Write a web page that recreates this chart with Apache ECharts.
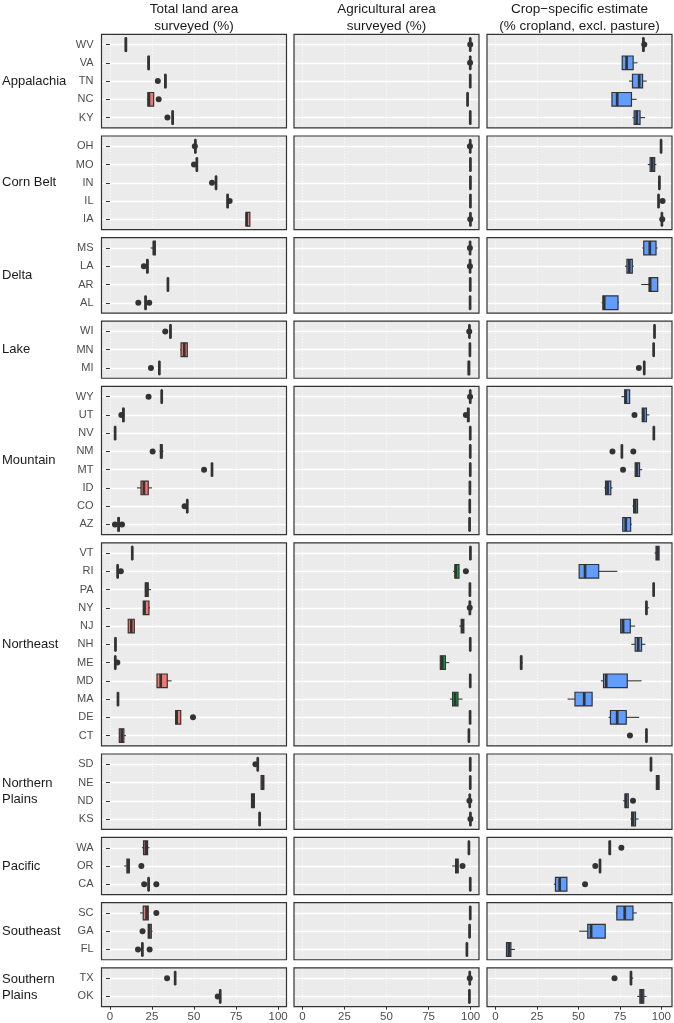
<!DOCTYPE html>
<html><head><meta charset="utf-8">
<script src="https://cdn.jsdelivr.net/npm/echarts@6/dist/echarts.min.js"></script>
<style>html,body{margin:0;padding:0;background:#fff}#c{width:674px;height:1023px}</style>
</head><body><div id="c"></div>
<script>
// ---------- DATA ----------
const regions = ['Appalachia','Corn Belt','Delta','Lake','Mountain','Northeast','Northern\nPlains','Pacific','Southeast','Southern\nPlains'];
const regionStates = [
  ['WV','VA','TN','NC','KY'],
  ['OH','MO','IN','IL','IA'],
  ['MS','LA','AR','AL'],
  ['WI','MN','MI'],
  ['WY','UT','NV','NM','MT','ID','CO','AZ'],
  ['VT','RI','PA','NY','NJ','NH','ME','MD','MA','DE','CT'],
  ['SD','NE','ND','KS'],
  ['WA','OR','CA'],
  ['SC','GA','FL'],
  ['TX','OK']
];
const colTitles = ['Total land area\nsurveyed (%)','Agricultural area\nsurveyed (%)','Crop\u2212specific estimate\n(% cropland, excl. pasture)'];
const xTicks = [0,25,50,75,100];

// [min, q1, median, q3, max] per state, in the flat order of regionStates
const landStats = [
  [9,9.2,9.5,9.8,10],[22.5,22.8,23,23.3,23.6],[32.5,32.7,33,33.2,33.4],[22,22.6,23.2,26,26],[37,37.1,37.3,37.5,37.6],
  [50.4,50.6,50.8,51,51.2],[51.3,51.5,51.7,51.9,52],[62.8,63,63.1,63.3,63.5],[69.6,69.8,70,70.2,70.4],[81,81,81.3,83.2,83.2],
  [24.2,25.8,26.2,27,27],[21.8,22,22.3,22.5,22.8],[34.3,34.4,34.5,34.6,34.7],[20.8,21,21.2,21.4,21.6],
  [35.6,35.8,36,36.2,36.4],[41.7,42.3,44.2,46,46],[29.2,29.3,29.4,29.5,29.6],
  [30.6,30.7,30.8,30.9,31],[7.5,7.7,8,8.3,8.5],[2.9,3,3.1,3.2,3.3],[29.5,30,30.6,31,31.8],[60.5,60.6,60.7,60.8,60.9],[16.1,18.5,20.2,22.8,25],[45.8,45.9,46,46.1,46.2],[4.5,4.8,5.2,5.5,5.8],
  [13.1,13.2,13.3,13.4,13.5],[4.4,4.5,4.6,4.7,4.8],[20.8,21,21.8,22.8,24.4],[19.8,19.8,20.6,23.2,23.8],[10.9,10.9,12.7,14.5,14.5],[3.1,3.2,3.3,3.4,3.5],[3,3.1,3.2,3.3,3.4],[28,28,30.2,34.1,36.7],[4.6,4.7,4.8,4.9,5],[39.1,39.1,39.7,42.1,42.1],[5.6,5.6,7,8.3,9.5],
  [87.7,87.8,87.9,88,88.1],[89.7,89.9,90.9,91.5,91.7],[84.1,84.2,84.9,85.9,86.1],[88.8,88.9,89,89.1,89.2],
  [19,20,21.4,22.4,23.5],[8.5,10.1,11,11.5,11.9],[22.8,22.9,23,23.1,23.2],
  [17.9,19.8,21.8,22.8,22.8],[22.8,22.8,23.4,24.6,25.4],[19.1,19.2,19.3,19.4,19.5],
  [38.6,38.7,38.8,38.9,39],[65.4,65.5,65.6,65.7,65.8]
];
const landOutliers = [
  ['TN',28.5],['NC',29],['KY',34.2],['OH',50.5],['MO',50],['IN',60.7],['IL',71.2],
  ['LA',20.2],['AL',16.9],['AL',23.4],['WI',32.9],['MI',24.4],
  ['WY',23],['UT',6.8],['NM',25.4],['MT',56],['CO',44.4],['AZ',3],['AZ',7.2],
  ['RI',6.5],['ME',4.4],['DE',49.4],['SD',86.5],['OR',18.7],['CA',20.4],['CA',27.6],
  ['SC',27.6],['GA',19.4],['FL',16.7],['FL',23.6],['TX',34],['OK',64.1]
];
const agStats = [
  [99.6,99.7,99.8,99.9,100],[99.6,99.7,99.8,99.9,100],[99.6,99.7,99.8,99.9,100],[98,98.1,98.2,98.3,98.4],[99.6,99.7,99.8,99.9,100],
  [99.6,99.7,99.8,99.9,100],[99.7,99.8,99.9,99.95,100],[99.7,99.8,99.9,99.95,100],[99.7,99.8,99.9,99.95,100],[99.7,99.8,99.9,99.95,100],
  [99.5,99.6,99.7,99.8,99.9],[99.5,99.6,99.7,99.8,99.9],[99.6,99.7,99.8,99.9,100],[99.5,99.6,99.7,99.8,99.9],
  [99.1,99.2,99.3,99.4,99.5],[99.4,99.5,99.6,99.7,99.8],[98.4,98.6,99,99.4,99.5],
  [99.6,99.7,99.8,99.9,100],[97.6,98.2,98.6,99,99.3],[99.6,99.7,99.8,99.9,100],[99.6,99.7,99.8,99.9,100],[99.6,99.7,99.8,99.9,100],[99.4,99.5,99.6,99.7,99.8],[99.3,99.4,99.5,99.6,99.7],[99.2,99.3,99.4,99.5,99.6],
  [99.7,99.8,99.9,99.95,100],[89.7,90.7,91.2,93.1,93.1],[99.4,99.5,99.6,99.7,99.8],[98.8,99.3,99.6,99.8,100],[93.2,94.4,95.2,96,96],[99.6,99.7,99.8,99.9,100],[82,82,83.2,85,87.3],[99.6,99.7,99.8,99.9,100],[87.7,89.3,90.8,92.5,95.2],[99.5,99.6,99.7,99.8,99.9],[98.8,98.9,99,99.1,99.2],
  [99.6,99.7,99.8,99.9,100],[99.6,99.7,99.8,99.9,100],[99.3,99.4,99.5,99.6,99.7],[99.7,99.8,99.9,99.95,100],
  [98.6,98.8,99,99.2,99.4],[89,91.1,91.9,92.6,92.6],[99.6,99.7,99.8,99.9,100],
  [99.6,99.7,99.8,99.9,100],[99.2,99.3,99.4,99.5,99.6],[97.6,97.7,97.8,97.9,98],
  [99.3,99.4,99.5,99.6,99.7],[99.1,99.2,99.3,99.4,99.5]
];
const agOutliers = [
  ['WV',99.8],['VA',99.7],['OH',99.6],['IA',99.8],['MS',99.6],['LA',99.6],['WI',99.2],
  ['WY',99.7],['UT',97.2],['RI',97.2],['NY',99.5],['ND',99.3],['KS',99.9],['OR',95.2],['TX',99.5]
];
const cropStats = [
  [87.6,87.7,88,88.2,88.5],[75.4,75.4,78,81.9,84.5],[79.4,81.5,85.5,87.5,90],[69.3,69.3,72.4,80.9,84],[81.5,82.5,84,86,89],
  [98.3,98.4,98.5,98.6,98.7],[90.6,92,93.3,94.7,95.7],[97.3,97.4,97.5,97.6,97.7],[96.8,96.9,97,97.1,97.2],[98.8,98.9,99,99.1,99.2],
  [87.3,88.2,91.8,95.5,96.5],[77,78.2,79.6,81.4,82.3],[86.7,91.4,92,96.5,96.5],[63.1,63.9,64.7,72.9,73.5],
  [94.4,94.5,94.6,94.7,94.8],[93.9,94,94.1,94.2,94.3],[88.3,88.4,88.5,88.6,88.7],
  [74.9,76.9,77.5,79.8,79.8],[87.3,87.3,88,89.8,91.6],[94,94.1,94.2,94.3,94.4],[75,75.1,75.2,75.3,75.4],[83.1,83.1,84.1,85.7,87.3],[64.8,65.5,66.7,68.6,69.7],[81.5,82.2,83.1,84.5,84.5],[75.7,75.7,77.5,80.4,81],
  [94.6,95.5,96.4,97.3,97.3],[49.8,49.8,53.3,61.4,72.5],[93.9,94,94.1,94.2,94.3],[89.6,89.7,89.8,89.9,91.4],[74.5,74.5,75.9,80.2,83.1],[80.8,83.1,84.9,86.9,89.2],[15,15.1,15.3,15.6,16.3],[62.7,64.3,65.9,78.4,86.9],[42.9,47.3,52.8,57.5,57.8],[67.3,68.4,72.4,77.8,85.5],[89.6,89.7,89.8,89.9,90],
  [92.3,92.4,92.5,92.6,92.7],[95.5,95.7,96.5,97.3,97.5],[75.9,77.1,77.6,79,79],[80.2,81,81.8,83.3,85.1],
  [67.5,67.7,68,68.4,68.6],[62,62.1,62.2,62.3,62.4],[34.7,35.7,38.2,42.5,42.5],
  [71.6,72.2,76.9,81.8,84.1],[49.8,54.9,56.9,65.3,65.3],[6.6,6.6,8,9.2,11.6],
  [80.4,80.5,80.6,80.8,82],[84.3,85.9,86.9,88.2,89.8]
];
const cropOutliers = [
  ['WV',88.5],['IL',99.4],['IA',99.2],['MI',85.3],['UT',82.7],['NM',69.6],['NM',82],['MT',75.9],
  ['CT',80],['ND',81.8],['WA',74.9],['OR',59.4],['CA',53.3],['TX',70.8]
];

// ---------- LAYOUT / STYLE ----------
const colColors = ['#F8766D','#00BA38','#619CFF'];
const colStats = [landStats, agStats, cropStats];
const colOutliers = [landOutliers, agOutliers, cropOutliers];
const colLeft = [101.5, 294, 487], panelW = 185;
const top0 = 34.3, rowStep = 18.25, pad = 10.3, gap = 8.1;
const xPad = panelW * 5 / 110;
const FONT = '"Liberation Sans", Arial, sans-serif';

function renderBox(params, api) {
  const cat = api.value(0);
  const lo = api.coord([api.value(1), cat]);
  const q1 = api.coord([api.value(2), cat]);
  const md = api.coord([api.value(3), cat]);
  const q3 = api.coord([api.value(4), cat]);
  const hi = api.coord([api.value(5), cat]);
  const bh = api.size([0, 1])[1] * 0.75;
  const y = md[1];
  const color = api.visual('color');
  return {type: 'group', children: [
    {type: 'line', shape: {x1: lo[0], y1: y, x2: q1[0], y2: y}, style: {stroke: '#333', lineWidth: 1.1}},
    {type: 'line', shape: {x1: q3[0], y1: y, x2: hi[0], y2: y}, style: {stroke: '#333', lineWidth: 1.1}},
    {type: 'rect', shape: {x: q1[0], y: y - bh / 2, width: q3[0] - q1[0], height: bh}, style: {fill: color, stroke: '#333', lineWidth: 1.2}},
    {type: 'line', shape: {x1: md[0], y1: y - bh / 2, x2: md[0], y2: y + bh / 2}, style: {stroke: '#333', lineWidth: 2.7}}
  ]};
}

const grids = [], xAxes = [], yAxes = [], series = [], graphics = [];
let curTop = top0, flat = 0;
regions.forEach((reg, r) => {
  const sts = regionStates[r];
  const n = sts.length;
  const h = (n - 1) * rowStep + 2 * pad;
  const cats = sts.slice().reverse();
  const last = r === regions.length - 1;
  for (let c = 0; c < 3; c++) {
    const gA = grids.length;
    grids.push({left: colLeft[c], top: curTop, width: panelW, height: h, show: true, backgroundColor: '#EBEBEB', borderWidth: 0});
    xAxes.push({gridIndex: gA, type: 'value', min: -5, max: 105, show: false});
    yAxes.push({gridIndex: gA, type: 'value', min: 0, max: 1, show: false});
    grids.push({left: colLeft[c] + xPad, top: curTop, width: panelW - 2 * xPad, height: h});
    xAxes.push({gridIndex: gA + 1, type: 'value', min: xTicks[0], max: xTicks[xTicks.length - 1], interval: 25,
      axisLine: {show: false},
      axisTick: {show: last, length: 3, lineStyle: {color: '#333', width: 1}},
      axisLabel: {show: last, color: '#4D4D4D', fontSize: 11.5, margin: 4, fontFamily: FONT},
      splitLine: {show: true, lineStyle: {color: '#ffffff', type: [1, 2], width: 0.9}}});
    yAxes.push({gridIndex: gA + 1, type: 'value', min: 0, max: 1, show: false});
    grids.push({left: colLeft[c], top: curTop + pad, width: panelW, height: (n - 1) * rowStep});
    xAxes.push({gridIndex: gA + 2, type: 'value', min: -5, max: 105, show: false});
    yAxes.push({gridIndex: gA + 2, type: 'category', data: cats, boundaryGap: false,
      axisLine: {show: false},
      axisTick: {show: c === 0, length: 4, interval: 0, lineStyle: {color: '#333'}},
      axisLabel: {show: c === 0, interval: 0, color: '#4D4D4D', fontSize: 11, margin: 8, fontFamily: FONT},
      splitLine: {show: true, interval: 0, lineStyle: {color: '#ffffff', width: 1.4}}});
    grids.push({left: colLeft[c], top: curTop, width: panelW, height: h, show: true, backgroundColor: 'transparent', borderColor: '#333', borderWidth: 1.2, z: 5});
    xAxes.push({gridIndex: gA + 3, type: 'value', min: -5, max: 105, show: false});
    yAxes.push({gridIndex: gA + 3, type: 'value', min: 0, max: 1, show: false});

    const boxData = sts.map((s, i) => [cats.indexOf(s)].concat(colStats[c][flat + i]));
    series.push({type: 'custom', xAxisIndex: gA + 2, yAxisIndex: gA + 2, renderItem: renderBox,
      itemStyle: {color: colColors[c]}, encode: {x: [1, 2, 3, 4, 5], y: 0}, data: boxData, z: 3, silent: true});
    const outs = colOutliers[c].filter(o => sts.includes(o[0])).map(o => [o[1], cats.indexOf(o[0])]);
    series.push({type: 'scatter', xAxisIndex: gA + 2, yAxisIndex: gA + 2, data: outs, symbolSize: 6,
      itemStyle: {color: '#333', opacity: 1}, z: 4, silent: true});
  }
  graphics.push({type: 'text', x: 2, y: curTop + h / 2,
    style: {text: reg, fill: '#1a1a1a', font: '13px ' + FONT, textVerticalAlign: 'middle', lineHeight: 16}});
  flat += n;
  curTop += h + gap;
});
colTitles.forEach((t, c) => {
  graphics.push({type: 'text', x: colLeft[c] + panelW / 2, y: 1,
    style: {text: t, fill: '#1a1a1a', font: '13.5px ' + FONT, textAlign: 'center', textVerticalAlign: 'top', lineHeight: 17}});
});

const chart = echarts.init(document.getElementById('c'), null, {renderer: 'canvas'});
chart.setOption({animation: false, grid: grids, xAxis: xAxes, yAxis: yAxes, series: series, graphic: graphics});
</script></body></html>
